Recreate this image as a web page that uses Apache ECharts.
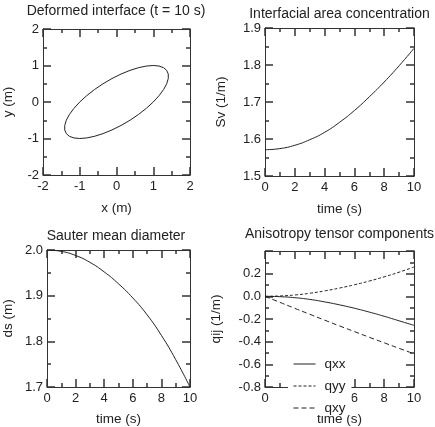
<!DOCTYPE html>
<html><head><meta charset="utf-8">
<script src="https://cdn.jsdelivr.net/npm/echarts@6/dist/echarts.min.js"></script>
<style>html,body{margin:0;padding:0;background:#fff}#c{width:435px;height:427px}</style>
</head><body><div id="c"></div>
<script>
// Panel 1: deformed interface outline (x, y) in m
const ellipseX = [1.000, 1.158, 1.282, 1.366, 1.409, 1.409, 1.366, 1.282, 1.158, 1.000, 0.811, 0.598, 0.366, 0.123, -0.123, -0.366, -0.598, -0.811,
  -1.000, -1.158, -1.282, -1.366, -1.409, -1.409, -1.366, -1.282, -1.158, -1.000, -0.811, -0.598, -0.366, -0.123, 0.123, 0.366, 0.598, 0.811, 1.000];
const ellipseY = [0.000, 0.174, 0.342, 0.500, 0.643, 0.766, 0.866, 0.940, 0.985, 1.000, 0.985, 0.940, 0.866, 0.766, 0.643, 0.500, 0.342, 0.174,
  0.000, -0.174, -0.342, -0.500, -0.643, -0.766, -0.866, -0.940, -0.985, -1.000, -0.985, -0.940, -0.866, -0.766, -0.643, -0.500, -0.342, -0.174, 0.000];
// time (s)
const time = [0, 1, 2, 3, 4, 5, 6, 7, 8, 9, 10];
// Panel 2: interfacial area concentration Sv (1/m)
const sv = [1.571, 1.574, 1.583, 1.598, 1.618, 1.645, 1.677, 1.714, 1.754, 1.798, 1.845];
// Panel 3: Sauter mean diameter ds (m)
const ds = [2.000, 1.997, 1.988, 1.973, 1.952, 1.926, 1.895, 1.858, 1.813, 1.760, 1.700];
// Panel 4: anisotropy tensor components (1/m)
const qxx = [0, -0.003, -0.012, -0.027, -0.049, -0.075, -0.105, -0.139, -0.176, -0.216, -0.256];
const qyy = [0, 0.003, 0.012, 0.027, 0.048, 0.073, 0.102, 0.135, 0.172, 0.213, 0.259];
const qxy = [0, -0.053, -0.106, -0.158, -0.210, -0.261, -0.311, -0.361, -0.410, -0.459, -0.507];
const titles = ['Deformed interface (t = 10 s)', 'Interfacial area concentration', 'Sauter mean diameter', 'Anisotropy tensor components'];
const xNames = ['x (m)', 'time (s)', 'time (s)', 'time (s)'];
const yNames = ['y (m)', 'Sv (1/m)', 'ds (m)', 'qij (1/m)'];

const FONT = '"Liberation Sans", Arial, Helvetica, sans-serif';
const INK = '#222';
const grids = [
  {left: 42, top: 29, width: 148, height: 146},
  {left: 265, top: 28, width: 149, height: 148},
  {left: 42, top: 250, width: 148, height: 148},
  {left: 265, top: 251, width: 149, height: 147}
];
const xr = [{min: -2, max: 2, interval: 1, fmt: v => String(v)},
            {min: 0, max: 10, interval: 2, fmt: v => String(v)},
            {min: 0, max: 10, interval: 2, fmt: v => String(v)},
            {min: 0, max: 10, interval: 2, fmt: v => String(v)}];
const yr = [{min: -2, max: 2, interval: 1, fmt: v => String(v)},
            {min: 1.5, max: 1.9, interval: 0.1, fmt: v => v.toFixed(1)},
            {min: 1.7, max: 2.0, interval: 0.1, fmt: v => v.toFixed(1)},
            {min: -0.8, max: 0.4, interval: 0.2, fmt: v => v.toFixed(1), hideMax: true}];
const xNameGap = [26, 26, 25, 25];
const yNameGap = [28, 37, 32, 42];
const titleTop = [4, 7, 229, 227];

function axis(kind, gi, r, pos, main, name, gap) {
  return {
    type: 'value', gridIndex: gi, position: pos,
    min: r.min, max: r.max, interval: r.interval,
    name: main ? name : '', nameLocation: 'middle', nameGap: gap,
    nameTextStyle: {fontFamily: FONT, fontSize: 13.5, color: INK},
    axisLine: {show: true, onZero: false, lineStyle: {color: '#333', width: 1}},
    axisTick: {show: true, inside: true, length: 8, lineStyle: {color: '#333', width: 1.5}},
    minorTick: {show: true, splitNumber: 2, length: 4, lineStyle: {color: '#333', width: 1.5}},
    splitLine: {show: false}, minorSplitLine: {show: false},
    axisLabel: {show: main, fontFamily: FONT, fontSize: 13, color: INK,
      margin: kind === 'x' ? 5 : 4, formatter: r.fmt, showMaxLabel: r.hideMax ? false : true, showMinLabel: true}
  };
}
const xAxes = [], yAxes = [];
for (let i = 0; i < 4; i++) {
  xAxes.push(axis('x', i, xr[i], 'bottom', true, xNames[i], xNameGap[i]));
  xAxes.push(axis('x', i, xr[i], 'top', false, '', 0));
  yAxes.push(axis('y', i, yr[i], 'left', true, yNames[i], yNameGap[i]));
  yAxes.push(axis('y', i, yr[i], 'right', false, '', 0));
}
const titleOpts = titles.map((t, i) => ({
  text: t, left: grids[i].left + grids[i].width / 2, top: titleTop[i], textAlign: 'center', padding: 0,
  textStyle: {fontFamily: FONT, fontSize: 14, fontWeight: 'normal', color: INK}
}));
const pairs = (xs, ys) => xs.map((x, k) => [x, ys[k]]);
const base = {type: 'line', symbol: 'none', showSymbol: false, animation: false, silent: true, color: INK, itemStyle: {color: INK}};
const series = [
  Object.assign({}, base, {name: 'interface', xAxisIndex: 0, yAxisIndex: 0, data: pairs(ellipseX, ellipseY), lineStyle: {color: INK, width: 1}}),
  Object.assign({}, base, {name: 'Sv', xAxisIndex: 2, yAxisIndex: 2, smooth: true, data: pairs(time, sv), lineStyle: {color: INK, width: 1}}),
  Object.assign({}, base, {name: 'ds', xAxisIndex: 4, yAxisIndex: 4, smooth: true, data: pairs(time, ds), lineStyle: {color: INK, width: 1}}),
  Object.assign({}, base, {name: 'qxx', xAxisIndex: 6, yAxisIndex: 6, smooth: true, data: pairs(time, qxx), lineStyle: {color: INK, width: 1, type: 'solid'}}),
  Object.assign({}, base, {name: 'qyy', xAxisIndex: 6, yAxisIndex: 6, smooth: true, data: pairs(time, qyy), lineStyle: {color: INK, width: 1, type: [3, 2]}}),
  Object.assign({}, base, {name: 'qxy', xAxisIndex: 6, yAxisIndex: 6, smooth: true, data: pairs(time, qxy), lineStyle: {color: INK, width: 1, type: [5, 3]}})
];
const chart = echarts.init(document.getElementById('c'), null, {renderer: 'canvas'});
chart.setOption({
  backgroundColor: '#fff',
  animation: false,
  title: titleOpts,
  grid: grids,
  xAxis: xAxes,
  yAxis: yAxes,
  legend: {
    data: ['qxx', 'qyy', 'qxy'], orient: 'vertical', left: 288, top: 353,
    padding: [4, 6, 0, 5], itemWidth: 22, itemHeight: 14, itemGap: 8,
    backgroundColor: '#fff', borderWidth: 0, selectedMode: false, z: 10,
    itemStyle: {opacity: 0},
    lineStyle: {width: 1},
    textStyle: {fontFamily: FONT, fontSize: 13.5, lineHeight: 14, color: INK, padding: [0, 0, 0, 4]}
  },
  series: series
});
</script></body></html>
